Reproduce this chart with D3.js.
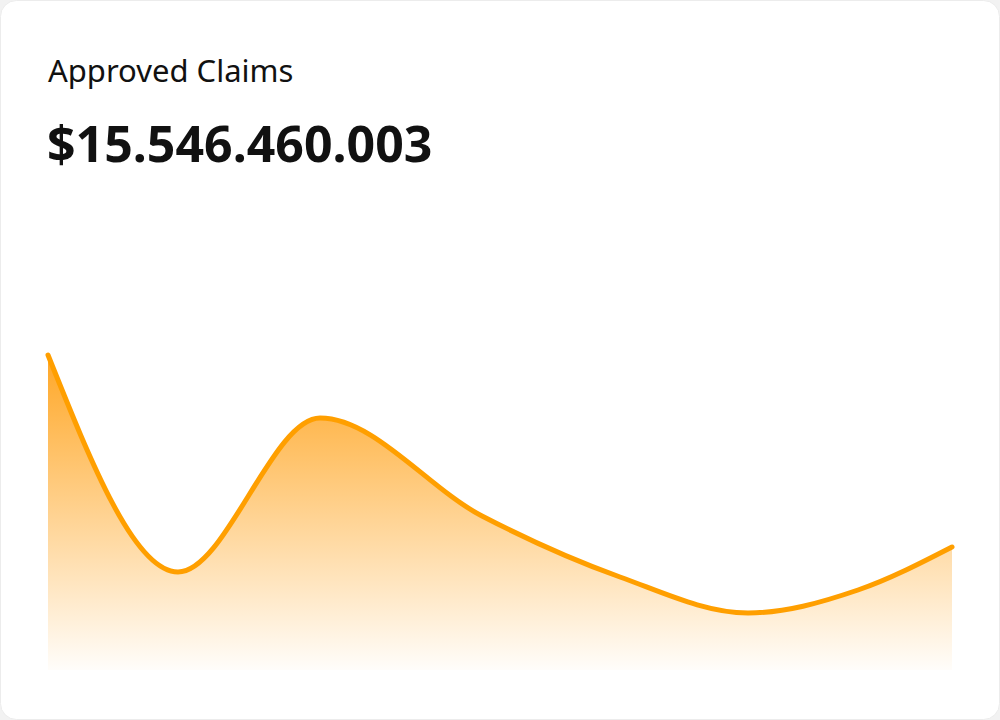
<!DOCTYPE html>
<html><head><meta charset="utf-8">
<script src="https://cdn.jsdelivr.net/npm/d3@7"></script>
<style>
body{margin:0;background:#f2f2f2;font-family:"Noto Sans",sans-serif;}
</style></head>
<body>
<svg id="chart" width="1000" height="720"></svg>
<script>
var title = "Approved Claims";
var total = "$15.546.460.003";
var periods = [0, 130, 272, 434, 572, 700, 810, 904];
var claims = [315, 98, 252, 154, 93, 57, 80, 123];

var svg = d3.select("#chart");
svg.append("rect").attr("x", 0.5).attr("y", 0.5).attr("width", 999).attr("height", 719)
  .attr("rx", 16).attr("fill", "#fff").attr("stroke", "#ececec");

svg.append("text").attr("x", 48).attr("y", 82).attr("font-size", 31).attr("fill", "#111").text(title);
svg.append("text").attr("x", 47).attr("y", 162).attr("font-size", 50).attr("font-weight", 700)
  .attr("fill", "#111").text(total);

var x = d3.scaleLinear().domain(d3.extent(periods)).range([48, 952]);
var y = d3.scaleLinear().domain([0, 340]).range([670, 330]);

var grad = svg.append("defs").append("linearGradient").attr("id", "fillGrad")
  .attr("x1", 0).attr("y1", 0).attr("x2", 0).attr("y2", 1);
grad.append("stop").attr("offset", "0%").attr("stop-color", "#ffa21a").attr("stop-opacity", 0.95);
grad.append("stop").attr("offset", "100%").attr("stop-color", "#ffa21a").attr("stop-opacity", 0.02);

var data = periods.map(function(p, i) { return {p: p, v: claims[i]}; });

svg.append("path").datum(data).attr("fill", "url(#fillGrad)")
  .attr("d", d3.area().curve(d3.curveMonotoneX).x(d => x(d.p)).y0(y(0)).y1(d => y(d.v)));
svg.append("path").datum(data).attr("fill", "none").attr("stroke", "#ff9f00")
  .attr("stroke-width", 5).attr("stroke-linecap", "round")
  .attr("d", d3.line().curve(d3.curveMonotoneX).x(d => x(d.p)).y(d => y(d.v)));
</script>
</body></html>
